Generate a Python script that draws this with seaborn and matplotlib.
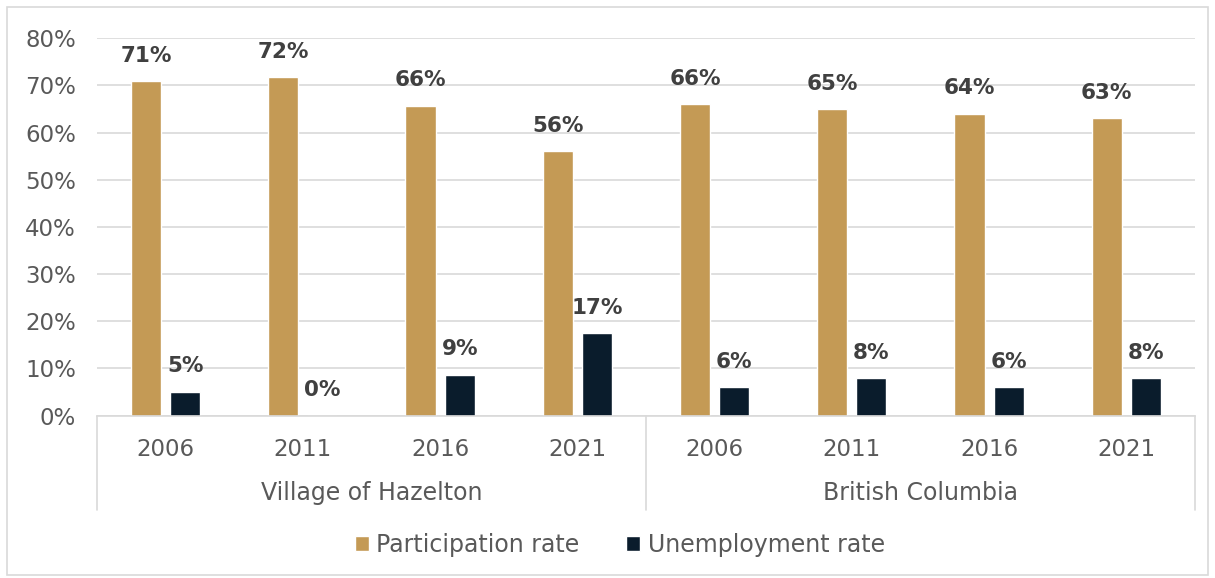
import pandas as pd
import seaborn as sns
import matplotlib.pyplot as plt
from matplotlib.patches import Rectangle

# values (percent)
regions = ['Village of Hazelton', 'British Columbia']
years = ['2006', '2011', '2016', '2021']
participation = [70.9, 71.8, 65.7, 56.1, 66.0, 65.0, 64.0, 63.0]
unemployment = [5.1, 0.0, 8.7, 17.4, 6.1, 8.0, 6.0, 8.0]
series_names = ['Participation rate', 'Unemployment rate']
colors = ['#C49A55', '#0A1C2C']

keys = [f'{r} {y}' for r in regions for y in years]
rows = []
for i, k in enumerate(keys):
    rows.append({'key': k, 'series': series_names[0], 'value': participation[i]})
    rows.append({'key': k, 'series': series_names[1], 'value': unemployment[i]})
df = pd.DataFrame(rows)

sns.set_style('white')
plt.rcParams['font.family'] = ['DejaVu Sans']

fig = plt.figure(figsize=(12.15, 5.78), dpi=100)
ax = fig.add_axes([0.0798, 0.281, 0.9037, 0.653])

sns.barplot(data=df, x='key', y='value', hue='series', order=keys,
            hue_order=series_names, palette=colors, width=0.57, gap=0.23,
            saturation=1, legend=True, ax=ax)

for cont, vals in zip(ax.containers, [participation, unemployment]):
    ax.bar_label(cont, labels=[f'{round(v):.0f}%' for v in vals], padding=11,
                 fontsize=15.5, fontweight='bold', color='#404040')

ax.set_ylim(0, 80)
ax.set_xlim(-0.5, len(keys) - 0.5)
ax.set_yticks(range(0, 81, 10))
ax.set_yticklabels([f'{t}%' for t in range(0, 81, 10)])
ax.yaxis.grid(True, color='#D9D9D9', linewidth=1.2)
ax.set_axisbelow(True)
ax.set_xticks(range(len(keys)))
ax.set_xticklabels(years * len(regions))
ax.tick_params(axis='both', length=0, labelsize=16.5, colors='#595959')
ax.tick_params(axis='x', pad=16)
ax.tick_params(axis='y', pad=15)
ax.set_xlabel('')
ax.set_ylabel('')
for s in ['top', 'right', 'left']:
    ax.spines[s].set_visible(False)
ax.spines['bottom'].set_color('#D9D9D9')
ax.spines['bottom'].set_linewidth(1.2)

# grouped category axis: separators and region names
trans = ax.get_xaxis_transform()
n = len(years)
for b in range(len(regions) + 1):
    xb = b * n - 0.5
    ax.plot([xb, xb], [0, -0.25], transform=trans, color='#D9D9D9',
            linewidth=1.2, clip_on=False)
for j, r in enumerate(regions):
    ax.text(j * n + (n - 1) / 2, -0.206, r, transform=trans, ha='center',
            va='center', fontsize=17, color='#595959')

ax.legend_.remove()
handles, labels = ax.get_legend_handles_labels()
fig.legend(handles, labels, loc='center', bbox_to_anchor=(0.51, 0.057),
           ncol=2, frameon=False, fontsize=17, handlelength=0.6,
           handleheight=0.6, handletextpad=0.3, columnspacing=2.0,
           labelcolor='#595959')

fig.patches.append(Rectangle((0.006, 0.005), 0.988, 0.983, transform=fig.transFigure,
                             fill=False, edgecolor='#D9D9D9', linewidth=1.2))

fig.savefig('out.png', dpi=100)
